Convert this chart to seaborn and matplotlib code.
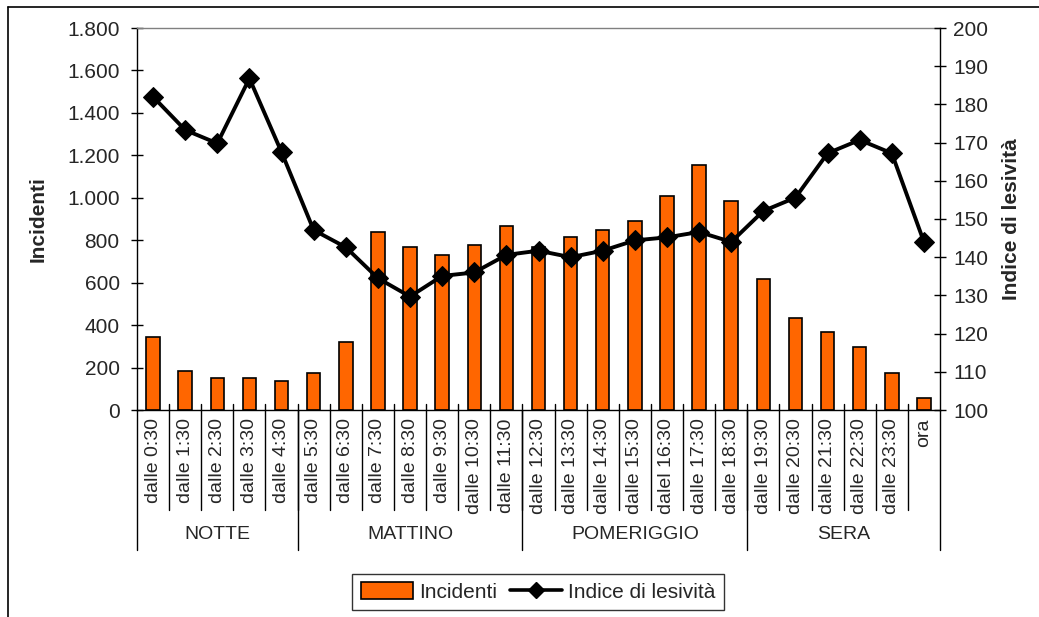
import numpy as np
import matplotlib
matplotlib.use("Agg")
import matplotlib.pyplot as plt
import matplotlib.ticker as mticker
from matplotlib.lines import Line2D
from matplotlib.patches import Patch
import seaborn as sns

# Hourly road-accident data
fasce = ["dalle 0:30", "dalle 1:30", "dalle 2:30", "dalle 3:30", "dalle 4:30",
         "dalle 5:30", "dalle 6:30", "dalle 7:30", "dalle 8:30", "dalle 9:30",
         "dalle 10:30", "dalle 11:30", "dalle 12:30", "dalle 13:30", "dalle 14:30",
         "dalle 15:30", "dalel 16:30", "dalle 17:30", "dalle 18:30", "dalle 19:30",
         "dalle 20:30", "dalle 21:30", "dalle 22:30", "dalle 23:30", "ora"]
incidenti = [345, 184, 151, 151, 137, 176, 320, 840, 768, 729, 776, 865,
             768, 817, 848, 889, 1008, 1153, 985, 616, 432, 367, 297, 176, 55]
indice_lesivita = [182.0, 173.3, 169.8, 186.8, 167.5, 147.1, 142.6, 134.5, 129.7,
                   135.1, 136.0, 140.6, 141.7, 140.0, 141.7, 144.4, 145.2, 146.6,
                   144.0, 152.1, 155.6, 167.2, 170.7, 167.2, 144.0]
periodi = ["NOTTE", "MATTINO", "POMERIGGIO", "SERA"]
periodi_fine = [5, 12, 19, 25]  # exclusive end index of each period

sns.set_theme(style="white")
plt.rcParams["font.family"] = ["Liberation Sans", "DejaVu Sans"]

ARANCIO = "#FF6600"
FS = 14

fig = plt.figure(figsize=(10.39, 6.17), dpi=100)
ax = fig.add_axes([137 / 1039, 1 - 410 / 617, (940 - 137) / 1039, (410 - 28) / 617])

sns.barplot(x=fasce, y=incidenti, ax=ax, color=ARANCIO, width=0.42,
            edgecolor="black", linewidth=1.2, saturation=1)
n = len(fasce)
ax.set_xlim(-0.5, n - 0.5)
ax.set_ylim(0, 1800)
ax.set_yticks(np.arange(0, 1801, 200))
ax.yaxis.set_major_formatter(mticker.FuncFormatter(lambda v, p: f"{int(v):,}".replace(",", ".")))
ax.set_xlabel("")
ax.set_ylabel("Incidenti", fontsize=FS + 1, fontweight="bold", labelpad=14)

ax2 = ax.twinx()
sns.lineplot(x=np.arange(n), y=indice_lesivita, ax=ax2, color="black",
             linewidth=2.8, marker="D", markersize=10, markeredgecolor="black")
ax2.set_ylim(100, 200)
ax2.set_yticks(np.arange(100, 201, 10))
ax2.set_ylabel("Indice di lesività", fontsize=FS + 1, fontweight="bold", labelpad=10)
ax2.set_xlim(-0.5, n - 0.5)

for a in (ax, ax2):
    a.grid(False)
    for s in a.spines.values():
        s.set_visible(False)

# axis lines
ax.spines["left"].set_visible(True)
ax.spines["left"].set_color("black")
ax.spines["left"].set_linewidth(1.0)
ax.spines["bottom"].set_visible(True)
ax.spines["bottom"].set_color("black")
ax.spines["bottom"].set_linewidth(1.0)
ax2.spines["right"].set_visible(True)
ax2.spines["right"].set_color("black")
ax2.spines["right"].set_linewidth(1.0)
ax.spines["top"].set_visible(True)
ax.spines["top"].set_color("#808080")
ax.spines["top"].set_linewidth(1.0)

ax.tick_params(axis="y", direction="inout", length=9, width=1, color="black",
               labelsize=FS + 1, pad=8, left=True)
ax2.tick_params(axis="y", direction="inout", length=9, width=1, color="black",
                labelsize=FS + 1, pad=5, right=True)

# category labels: drawn below the axis, rotated
ax.set_xticks(np.arange(n))
ax.set_xticklabels(fasce, rotation=90, fontsize=FS, va="top", ha="center")
ax.tick_params(axis="x", length=0, pad=6, bottom=False)

# separators between category labels and period groups
trans = ax.get_xaxis_transform()
for i in range(1, n):
    ax.plot([i - 0.5, i - 0.5], [0.015, -0.262], transform=trans, color="black",
            linewidth=1.0, clip_on=False)
starts = [0] + periodi_fine[:-1]
for s, e, nome in zip(starts, periodi_fine, periodi):
    ax.plot([s - 0.5, s - 0.5], [0, -0.366], transform=trans, color="black",
            linewidth=1.0, clip_on=False)
    ax.text((s + e - 1) / 2, -0.327, nome, transform=trans, ha="center", va="center",
            fontsize=FS, family=["Liberation Sans Narrow", "Liberation Sans", "DejaVu Sans"])
ax.plot([n - 0.5, n - 0.5], [0, -0.366], transform=trans, color="black",
        linewidth=1.0, clip_on=False)

# legend
handles = [Patch(facecolor=ARANCIO, edgecolor="black", linewidth=1.2, label="Incidenti"),
           Line2D([0], [0], color="black", linewidth=2.6, marker="D", markersize=8,
                  label="Indice di lesività")]
leg = fig.legend(handles=handles, loc="center", bbox_to_anchor=(538 / 1039, 1 - 592 / 617),
                 ncol=2, frameon=True, fancybox=False, fontsize=FS + 1, handlelength=2.5,
                 handleheight=0.9, columnspacing=0.6, handletextpad=0.3, borderpad=0.4)
leg.get_frame().set_edgecolor("black")
leg.get_frame().set_linewidth(1.0)

# outer frame edges
fig.add_artist(Line2D([8 / 1039, 8 / 1039], [0, 1 - 7 / 617], color="black", linewidth=1.2,
                      transform=fig.transFigure))
fig.add_artist(Line2D([8 / 1039, 1], [1 - 7 / 617, 1 - 7 / 617], color="black", linewidth=1.2,
                      transform=fig.transFigure))

fig.savefig("out.png", dpi=100, facecolor="white")
